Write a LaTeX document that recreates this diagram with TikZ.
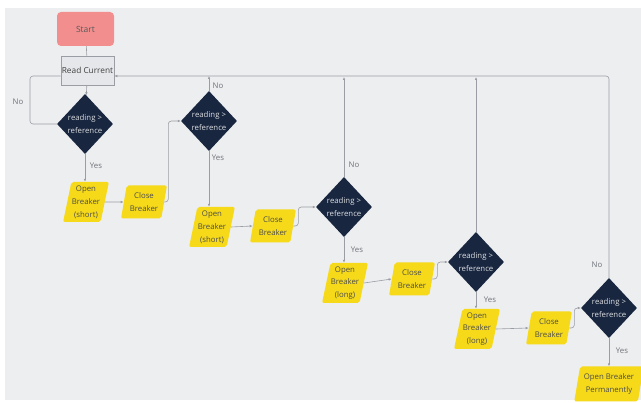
\documentclass[tikz,border=0pt]{standalone}
\usepackage{fontspec}
\setmainfont{Open Sans}
\usetikzlibrary{shapes.geometric,arrows.meta}

\definecolor{bg}{HTML}{EDEEF0}
\definecolor{navy}{HTML}{18263F}
\definecolor{yel}{HTML}{F6DA1A}
\definecolor{salmon}{HTML}{F28E8E}
\definecolor{boxgray}{HTML}{E6E7EA}
\definecolor{edge}{HTML}{9A9DA3}
\definecolor{lbl}{HTML}{6E7278}

\tikzset{
  base/.style={align=center, inner sep=0pt, font=\fontsize{7.8}{12.8}\selectfont},
  startbox/.style={base, rectangle, rounded corners=4pt, fill=salmon,
    minimum width=57pt, minimum height=34pt, text=black!65, font=\fontsize{8.5}{10}\selectfont},
  procbox/.style={base, rectangle, fill=boxgray, draw=edge, line width=0.6pt,
    minimum width=53pt, minimum height=29pt, text=black!75, font=\fontsize{8.3}{10}\selectfont},
  decision/.style={base, diamond, fill=navy, minimum width=56pt, minimum height=60pt,
    text=white!85!navy},
  io/.style={base, trapezium, trapezium left angle=76, trapezium right angle=104,
    trapezium stretches=true, fill=yel, rounded corners=2pt, text=black!70},
  openbox/.style={io, minimum width=46pt, minimum height=40pt},
  closebox/.style={io, minimum width=46pt, minimum height=33pt},
  permbox/.style={io, minimum width=70pt, minimum height=35pt},
  link/.style={draw=edge, line width=0.6pt},
  flow/.style={link, -{Latex[length=3pt,width=2.6pt]}},
  lab/.style={font=\fontsize{7.8}{9}\selectfont, text=lbl, inner sep=0pt}
}

\begin{document}
\begin{tikzpicture}[x=1pt, y=-1pt]
  % canvas
  \useasboundingbox (0,0) rectangle (641,403);
  \fill[white] (0,0) rectangle (641,403);
  \fill[bg] (5,8) rectangle (641,400);

  % nodes
  \node[startbox] (start) at (85.5,29) {Start};
  \node[procbox] (read) at (87.5,70.5) {Read Current};

  \node[decision] (d1) at (85,124) {reading >\\reference};
  \node[decision] (d2) at (209,121) {reading >\\reference};
  \node[decision] (d3) at (344,207) {reading >\\reference};
  \node[decision] (d4) at (476,262) {reading >\\reference};
  \node[decision] (d5) at (609,308) {reading >\\reference};

  \node[openbox]  (ob1) at (86,202)  {Open\\Breaker\\(short)};
  \node[closebox] (cb1) at (144,202) {Close\\Breaker};
  \node[openbox]  (ob2) at (212,227) {Open\\Breaker\\(short)};
  \node[closebox] (cb2) at (273,226) {Close\\Breaker};
  \node[openbox]  (ob3) at (345,283) {Open\\Breaker\\(long)};
  \node[closebox] (cb3) at (412,279) {Close\\Breaker};
  \node[openbox]  (ob4) at (477,329) {Open\\Breaker\\(long)};
  \node[closebox] (cb4) at (549,328) {Close\\Breaker};
  \node[permbox]  (obp) at (609,384) {Open Breaker\\Permanently};

  % main path
  \draw[link] (start) -- (read);
  \draw[flow] (read) -- (d1);

  % "no" returns
  \draw[link, rounded corners=3pt] (d1.west) -- (30,124) -- (30,76) -- (read.west |- 0,76);
  \draw[flow, rounded corners=3pt] (d5.north) -- (d5.north |- 0,76) -- (read.east |- 0,76);
  \draw[flow] (d2.north) -- (d2.north |- 0,76);
  \draw[flow] (d3.north) -- (d3.north |- 0,77);
  \draw[flow] (d4.north) -- (d4.north |- 0,77);

  % "yes" branches
  \draw[flow] (d1.south) -- (d1.south |- ob1.north);
  \draw[flow] (d2.south) -- (d2.south |- ob2.north);
  \draw[flow] (d3.south) -- (d3.south |- ob3.north);
  \draw[flow] (d4.south) -- (d4.south |- ob4.north);
  \draw[flow] (d5.south) -- (d5.south |- obp.north);

  % open -> close
  \draw[flow] (ob1.east) -- (cb1.west);
  \draw[flow] (ob2.east) -- (cb2.west);
  \draw[flow] (ob3.east) -- (cb3.west);
  \draw[flow] (ob4.east) -- (cb4.west);

  % close -> next check
  \draw[flow, rounded corners=3pt] (cb1.east) -- ++(4,0) |- (d2.west);
  \draw[flow, rounded corners=3pt] (cb2.east) -- ++(5,0) |- (d3.west);
  \draw[flow, rounded corners=3pt] (cb3.east) -- ++(5,0) |- (d4.west);
  \draw[flow, rounded corners=3pt] (cb4.east) -- ++(5,0) |- (d5.west);

  % labels
  \node[lab] (no1) at (18,102) {No};
  \node[lab] (no2) at (218,86) {No};
  \node[lab] (no3) at (354,165) {No};
  \node[lab] (no5) at (597,265) {No};
  \node[lab] (yes1) at (96,166) {Yes};
  \node[lab] (yes2) at (218,158) {Yes};
  \node[lab] (yes3) at (357,250) {Yes};
  \node[lab] (yes4) at (490,300) {Yes};
  \node[lab] (yes5) at (622,351) {Yes};
\end{tikzpicture}
\end{document}
